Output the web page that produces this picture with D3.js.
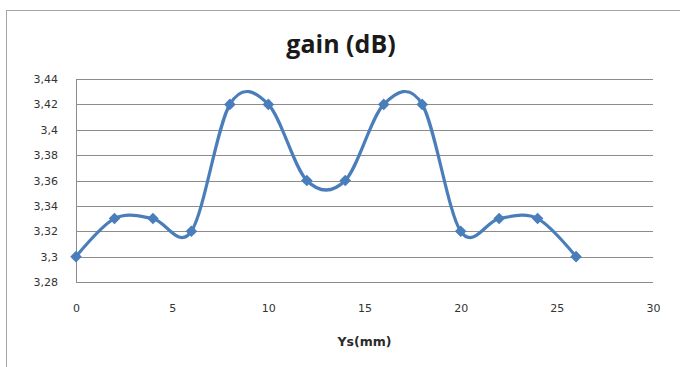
<!DOCTYPE html>
<html>
<head>
<meta charset="utf-8">
<script src="https://cdn.jsdelivr.net/npm/d3@7"></script>
<style>
  html, body { margin: 0; padding: 0; background: #fff; }
  svg { display: block; }
</style>
</head>
<body>
<svg id="chart" width="680" height="367"></svg>
<script>
// Gain versus Ys position
const ysPositions = [0, 2, 4, 6, 8, 10, 12, 14, 16, 18, 20, 22, 24, 26];
const gainValues = [3.30, 3.33, 3.33, 3.32, 3.42, 3.42, 3.36, 3.36, 3.42, 3.42, 3.32, 3.33, 3.33, 3.30];
const xTicks = [0, 5, 10, 15, 20, 25, 30];
const yTicks = [3.28, 3.30, 3.32, 3.34, 3.36, 3.38, 3.40, 3.42, 3.44];
const chartTitle = "gain (dB)";
const xTitle = "Ys(mm)";

const svg = d3.select("#chart");
const W = 680, H = 367;
const plot = { left: 76, right: 653, top: 79, bottom: 282 };

// outer chart frame
svg.append("rect")
  .attr("x", 6.5).attr("y", 10.5)
  .attr("width", W + 10).attr("height", H + 10)
  .attr("fill", "#fff").attr("stroke", "#a6a6a6").attr("stroke-width", 1);

const x = d3.scaleLinear().domain([0, 30]).range([plot.left, plot.right]);
const y = d3.scaleLinear().domain([3.28, 3.44]).range([plot.bottom, plot.top]);

const fmt = v => d3.format("")(+v.toFixed(2)).replace(".", ",");

// horizontal gridlines
svg.append("g")
  .selectAll("line")
  .data(yTicks)
  .join("line")
  .attr("x1", plot.left).attr("x2", plot.right)
  .attr("y1", d => Math.round(y(d)) + 0.5).attr("y2", d => Math.round(y(d)) + 0.5)
  .attr("stroke", "#8c8c8c").attr("stroke-width", 1);

// vertical axis line
svg.append("line")
  .attr("x1", plot.left + 0.5).attr("x2", plot.left + 0.5)
  .attr("y1", plot.top).attr("y2", plot.bottom + 0.5)
  .attr("stroke", "#8c8c8c").attr("stroke-width", 1);

// y axis labels
const yAxis = d3.axisLeft(y).tickValues(yTicks).tickFormat(fmt).tickSize(0).tickPadding(18);
const gy = svg.append("g").attr("transform", `translate(${plot.left},0)`).call(yAxis);
gy.select(".domain").remove();
gy.selectAll("text")
  .attr("font-family", "'DejaVu Sans', sans-serif").attr("font-size", 11).attr("fill", "#333");

// x axis labels
const xAxis = d3.axisBottom(x).tickValues(xTicks).tickFormat(d3.format("d")).tickSize(0).tickPadding(22);
const gx = svg.append("g").attr("transform", `translate(0,${plot.bottom})`).call(xAxis);
gx.select(".domain").remove();
gx.selectAll("text")
  .attr("font-family", "'DejaVu Sans', sans-serif").attr("font-size", 11).attr("fill", "#333");

// title
svg.append("text")
  .attr("x", 341).attr("y", 53)
  .attr("text-anchor", "middle")
  .attr("font-family", "'Open Sans', sans-serif").attr("font-weight", "bold")
  .attr("font-size", 25).attr("fill", "#1a1a1a")
  .text(chartTitle);

// x axis title
svg.append("text")
  .attr("x", (plot.left + plot.right) / 2).attr("y", 346)
  .attr("text-anchor", "middle")
  .attr("font-family", "'DejaVu Sans', sans-serif").attr("font-weight", "bold")
  .attr("font-size", 12.5).attr("fill", "#2a2a2a")
  .text(xTitle);

const points = ysPositions.map((v, i) => [v, gainValues[i]]);

// smoothed series line
const line = d3.line()
  .x(d => x(d[0])).y(d => y(d[1]))
  .curve(d3.curveCardinal.tension(0));

svg.append("path")
  .datum(points)
  .attr("d", line)
  .attr("fill", "none")
  .attr("stroke", "#4a7ebb")
  .attr("stroke-width", 3.2)
  .attr("stroke-linejoin", "round");

// diamond markers
const diamond = d3.symbol().type(d3.symbolDiamond2).size(85);
svg.append("g")
  .selectAll("path")
  .data(points)
  .join("path")
  .attr("transform", d => `translate(${x(d[0])},${y(d[1])})`)
  .attr("d", diamond)
  .attr("fill", "#4a7ebb");
</script>
</body>
</html>
